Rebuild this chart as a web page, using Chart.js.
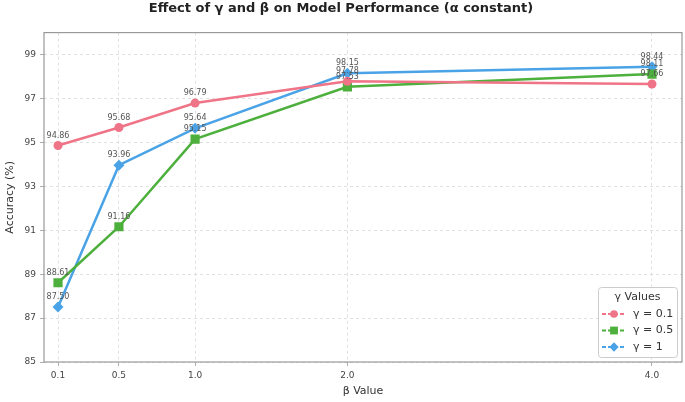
<!DOCTYPE html>
<html><head><meta charset="utf-8">
<script src="https://cdn.jsdelivr.net/npm/chart.js@4.4.0/dist/chart.umd.min.js"></script>
<style>html,body{margin:0;padding:0;background:#fff}#wrap{width:685px;height:402px}</style>
</head><body><div id="wrap"><canvas id="c" width="685" height="402"></canvas></div>
<script>
const betaValues = [0.1, 0.5, 1.0, 2.0, 4.0];
const gamma01 = [94.86, 95.68, 96.79, 97.78, 97.66];
const gamma05 = [88.61, 91.16, 95.15, 97.53, 98.11];
const gamma1 = [87.50, 93.96, 95.64, 98.15, 98.44];
const seriesNames = ['γ = 0.1', 'γ = 0.5', 'γ = 1'];
const yTicks = [85, 87, 89, 91, 93, 95, 97, 99];

const colors = ['#f07487', '#4daf3c', '#4aa3e6'];
const styles = ['circle', 'rect', 'rectRot'];
const radii = [4.5, 6.5, 5.5];
const FONT = "'DejaVu Sans', sans-serif";

function mk(vals) { return betaValues.map((b, i) => ({x: b, y: vals[i]})); }
const all = [gamma01, gamma05, gamma1];

const labelPlugin = {
  id: 'labels',
  afterDatasetsDraw(chart) {
    const ctx = chart.ctx;
    ctx.save();
    ctx.font = '8px ' + FONT;
    ctx.fillStyle = '#555';
    ctx.textAlign = 'center';
    ctx.textBaseline = 'bottom';
    chart.data.datasets.forEach((ds, di) => {
      const meta = chart.getDatasetMeta(di);
      meta.data.forEach((pt, i) => {
        ctx.fillText(ds.data[i].y.toFixed(2), pt.x, pt.y - 6);
      });
    });
    ctx.restore();
  }
};

const framePlugin = {
  id: 'frame',
  afterDraw(chart) {
    const a = chart.chartArea, ctx = chart.ctx;
    ctx.save();
    ctx.strokeStyle = '#999';
    ctx.lineWidth = 1.2;
    ctx.strokeRect(a.left, a.top, a.right - a.left, a.bottom - a.top);
    // legend
    const x0 = 598, y0 = 287, w = 79, h = 70;
    ctx.fillStyle = 'rgba(255,255,255,0.85)';
    ctx.strokeStyle = '#ccc';
    ctx.lineWidth = 1;
    ctx.beginPath();
    ctx.roundRect(x0 + 0.5, y0 + 0.5, w, h, 3);
    ctx.fill(); ctx.stroke();
    ctx.fillStyle = '#333';
    ctx.font = '11px ' + FONT;
    ctx.textAlign = 'center';
    ctx.textBaseline = 'middle';
    ctx.fillText('γ Values', x0 + w / 2, y0 + 10);
    ctx.textAlign = 'left';
    ctx.font = '11px ' + FONT;
    seriesNames.forEach((n, i) => {
      const yy = y0 + 27 + i * 16.5;
      ctx.strokeStyle = colors[i];
      ctx.lineWidth = 2.2;
      ctx.setLineDash([4, 2]);
      ctx.beginPath(); ctx.moveTo(x0 + 4, yy); ctx.lineTo(x0 + 28, yy); ctx.stroke();
      ctx.setLineDash([]);
      ctx.fillStyle = colors[i];
      Chart.helpers.drawPoint(ctx, {pointStyle: styles[i], radius: radii[i] * 0.85, rotation: 0, borderWidth: 0}, x0 + 16, yy);
      ctx.fillStyle = '#333';
      ctx.fillText(n, x0 + 35, yy);
    });
    ctx.restore();
  }
};

new Chart(document.getElementById('c'), {
  type: 'line',
  data: {
    datasets: all.map((v, i) => ({
      label: seriesNames[i],
      data: mk(v),
      borderColor: colors[i],
      backgroundColor: colors[i],
      borderWidth: 2.5,
      pointStyle: styles[i],
      pointRadius: radii[i],
      pointBorderWidth: 0,
      tension: 0
    }))
  },
  options: {
    responsive: false,
    animation: false,
    layout: {autoPadding: false, padding: {left: 0, right: 3, top: 0, bottom: 0}},
    plugins: {
      legend: {display: false},
      tooltip: {enabled: false},
      title: {
        display: true,
        text: 'Effect of γ and β on Model Performance (α constant)',
        font: {family: FONT, size: 13, weight: 'bold'},
        color: '#222',
        padding: {top: 1, bottom: 16}
      }
    },
    scales: {
      x: {
        type: 'linear',
        min: 0.008,
        max: 4.197,
        afterBuildTicks: s => { s.ticks = betaValues.map(v => ({value: v})); },
        afterFit: s => { s.height = 40; s.paddingLeft = 0; s.paddingRight = 0; },
        ticks: {
          font: {family: FONT, size: 9}, color: '#444',
          callback: v => v.toFixed(1), maxRotation: 0, padding: 4
        },
        grid: {color: '#d8d8d8', lineWidth: 0.8, drawTicks: true, tickLength: 4, tickColor: '#999'},
        border: {display: false, dash: [3, 3]},
        title: {display: true, text: 'β Value', font: {family: FONT, size: 11}, color: '#333', padding: {top: 4}}
      },
      y: {
        min: 85, max: 100,
        afterBuildTicks: s => { s.ticks = yTicks.map(v => ({value: v})); },
        afterFit: s => { s.width = 44; s.paddingTop = 0; s.paddingBottom = 0; },
        ticks: {font: {family: FONT, size: 9}, color: '#444', padding: 4},
        grid: {color: '#d8d8d8', lineWidth: 0.8, tickLength: 4, tickColor: '#999'},
        border: {display: false, dash: [3, 3]},
        title: {display: true, text: 'Accuracy (%)', font: {family: FONT, size: 11}, color: '#333', padding: {bottom: 0}}
      }
    }
  },
  plugins: [labelPlugin, framePlugin]
});
</script>
</body></html>
